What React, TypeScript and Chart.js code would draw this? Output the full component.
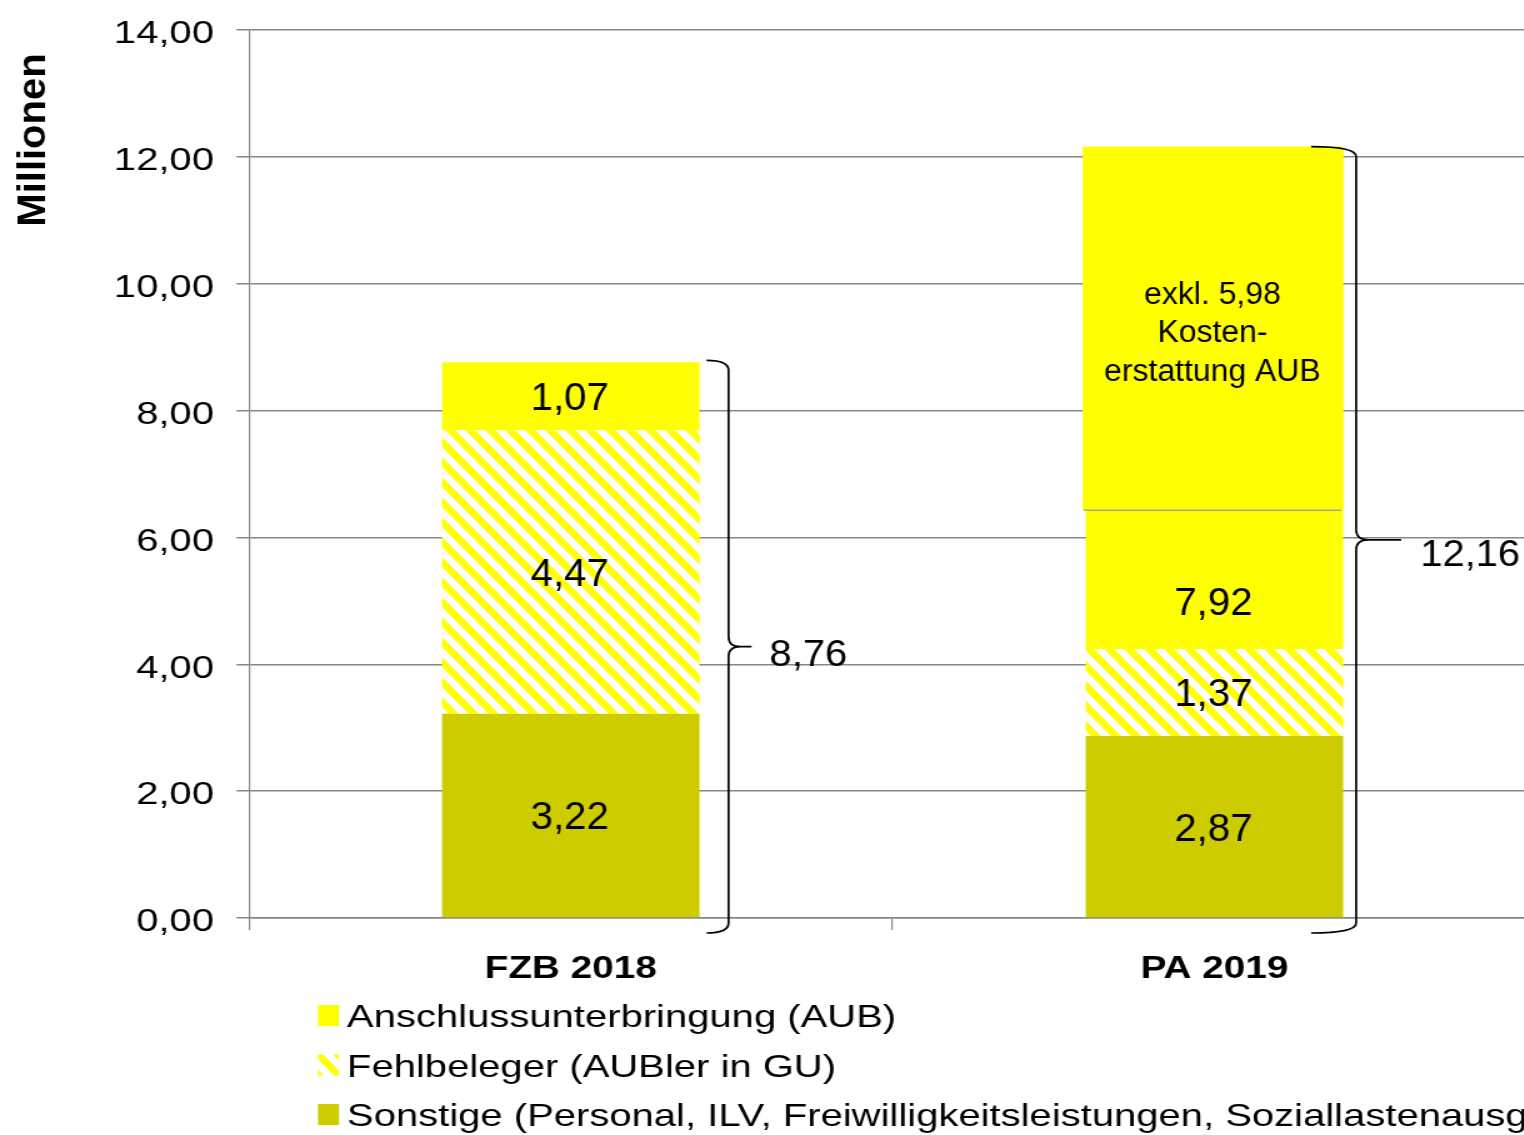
import React, { useEffect, useRef } from 'react';
import { Chart, registerables } from 'chart.js';

Chart.register(...registerables);

// ---------- data ----------
const categories = ['FZB 2018', 'PA 2019'];
const sonstigeValues = [3.22, 2.87];
const fehlbelegerValues = [4.47, 1.37];
const aubValues = [1.07, 7.92];
const totalValues = [8.76, 12.16];
const seriesNames = [
  'Sonstige (Personal, ILV, Freiwilligkeitsleistungen, Soziallastenausgleich)',
  'Fehlbeleger (AUBler in GU)',
  'Anschlussunterbringung (AUB)',
];
const yMin = 0;
const yMax = 14;
const yStep = 2;
const yTitle = 'Millionen';
const noteLines = ['exkl. 5,98', 'Kosten-', 'erstattung AUB'];
const noteBoxBottomValue = 6.43; // PA 2019: lower edge of the note box
const paAubLabelValue = 5.0; // PA 2019: where the "7,92" label sits

// ---------- layout / style ----------
const SX = 1.25; // horizontal stretch of the canvas on screen
const CW = 1240;
const CH = 1135;
const FONT = "'Liberation Sans', Arial, Helvetica, sans-serif";
const YELLOW = '#FFFF00';
const OLIVE = '#CCCC00';
const GRID = '#878787';

const fmt = (v: number) => v.toFixed(2).replace('.', ',');

function makeHatch(): CanvasPattern | string {
  const w = 16;
  const h = 20;
  const c = document.createElement('canvas');
  c.width = w;
  c.height = h;
  const g = c.getContext('2d');
  if (!g) return YELLOW;
  g.fillStyle = '#ffffff';
  g.fillRect(0, 0, w, h);
  g.strokeStyle = YELLOW;
  g.lineWidth = 6.25;
  for (let k = -1; k <= 1; k++) {
    g.beginPath();
    g.moveTo(k * w - w, -h);
    g.lineTo(k * w + 2 * w, 2 * h);
    g.stroke();
  }
  return g.createPattern(c, 'repeat') || YELLOW;
}

function drawText(
  ctx: CanvasRenderingContext2D,
  text: string,
  x: number,
  y: number,
  font: string,
  sx: number,
  align: CanvasTextAlign = 'center'
) {
  ctx.save();
  ctx.translate(x, y);
  ctx.scale(sx / SX, 1);
  ctx.font = font;
  ctx.textAlign = align;
  ctx.textBaseline = 'alphabetic';
  ctx.fillStyle = '#000';
  ctx.fillText(text, 0, 0);
  ctx.restore();
}

// brace geometry in screen px relative to the bar's right edge
const braceLayout = [
  { line: 29, end: 7, tip: 52, label: 70, labelDy: 6, topDy: -2 },
  { line: 13, end: -32, tip: 58, label: 77, labelDy: 13, topDy: 0 },
];

const overlayPlugin = {
  id: 'overlay',
  afterDatasetsDraw(chart: any) {
    const ctx: CanvasRenderingContext2D = chart.ctx;
    const y = chart.scales.y;
    const metaAub = chart.getDatasetMeta(2);

    // note box on PA 2019
    const bar = metaAub.data[1];
    const half = bar.width / 2;
    const left = bar.x - half;
    const right = bar.x + half;
    const top = y.getPixelForValue(totalValues[1]);
    const bottom = y.getPixelForValue(noteBoxBottomValue);
    ctx.save();
    ctx.fillStyle = YELLOW;
    ctx.fillRect(left - 3 / SX, top, right - left + 3 / SX, bottom - top);
    ctx.strokeStyle = '#a6a6a6';
    ctx.lineWidth = 1.5;
    ctx.beginPath();
    ctx.moveTo(left - 2 / SX, bottom);
    ctx.lineTo(right - 2 / SX, bottom);
    ctx.stroke();
    ctx.restore();
    const cy = (top + bottom) / 2 + 2.5;
    noteLines.forEach((t, i) => {
      drawText(ctx, t, bar.x - 2 / SX, cy + (i - 1) * 38.5 + 0.358 * 31, `31px ${FONT}`, 1.03);
    });

    // data labels
    const dataLabelFont = `39px ${FONT}`;
    chart.data.datasets.forEach((ds: any, di: number) => {
      const meta = chart.getDatasetMeta(di);
      meta.data.forEach((el: any, j: number) => {
        let c = (el.y + el.base) / 2;
        if (di === 2 && j === 1) c = y.getPixelForValue(paAubLabelValue);
        drawText(ctx, fmt(ds.data[j]), el.x - 1 / SX, c + 0.358 * 39, dataLabelFont, 1.03);
      });
    });

    // braces with totals
    const yZero = y.getPixelForValue(0);
    metaAub.data.forEach((el: any, j: number) => {
      const b = braceLayout[j];
      const r = el.x + el.width / 2;
      const xl = r + b.line / SX;
      const xe = r + b.end / SX;
      const xt = r + b.tip / SX;
      const yTop = y.getPixelForValue(totalValues[j]) + b.topDy;
      const yBot = yZero + 15;
      const ym = (yTop + yBot) / 2;
      const rad = 10;
      const hx = 12 / SX;
      ctx.save();
      ctx.strokeStyle = '#000';
      ctx.lineWidth = 1.7;
      ctx.lineJoin = 'round';
      ctx.beginPath();
      ctx.moveTo(xe, yTop);
      ctx.quadraticCurveTo(xl, yTop, xl, yTop + rad);
      ctx.lineTo(xl, ym - rad);
      ctx.quadraticCurveTo(xl, ym, xl + hx, ym);
      ctx.lineTo(xt, ym);
      ctx.moveTo(xl + hx, ym);
      ctx.quadraticCurveTo(xl, ym, xl, ym + rad);
      ctx.lineTo(xl, yBot - rad);
      ctx.quadraticCurveTo(xl, yBot, xe, yBot);
      ctx.stroke();
      ctx.restore();
      drawText(ctx, fmt(totalValues[j]), r + b.label / SX, ym + b.labelDy + 0.358 * 37, `37px ${FONT}`, 1.08, 'left');
    });
  },
  afterDraw(chart: any) {
    const ctx: CanvasRenderingContext2D = chart.ctx;
    // y axis title (rotated, unstretched on screen)
    ctx.save();
    ctx.translate(45 / SX, 140);
    ctx.scale(1 / SX, 1);
    ctx.rotate(-Math.PI / 2);
    ctx.font = `bold 40px ${FONT}`;
    ctx.textAlign = 'center';
    ctx.textBaseline = 'alphabetic';
    ctx.fillStyle = '#000';
    ctx.fillText(yTitle, 0, 0);
    ctx.restore();

    // legend
    const order = [2, 1, 0];
    order.forEach((di, row) => {
      const ds = chart.data.datasets[di];
      const baseY = 1027 + row * 49.5;
      const ix = 318 / SX;
      const iw = 21 / SX;
      const ih = 21;
      const itop = baseY - 22;
      ctx.save();
      if (di === 1) {
        ctx.fillStyle = '#ffffff';
        ctx.fillRect(ix, itop, iw, ih);
        ctx.beginPath();
        ctx.rect(ix, itop, iw, ih);
        ctx.clip();
        ctx.strokeStyle = YELLOW;
        ctx.lineWidth = 6.25;
        for (let k = -1; k <= 1; k++) {
          ctx.beginPath();
          ctx.moveTo(ix + k * 16 - 16, itop - 20);
          ctx.lineTo(ix + k * 16 + 32, itop + 40);
          ctx.stroke();
        }
      } else {
        ctx.fillStyle = ds.backgroundColor;
        ctx.fillRect(ix, itop, iw, ih);
      }
      ctx.restore();
      ctx.save();
      ctx.font = `32px ${FONT}`;
      ctx.fillStyle = '#000';
      ctx.textAlign = 'left';
      ctx.textBaseline = 'alphabetic';
      ctx.fillText(seriesNames[di], 347 / SX, baseY);
      ctx.restore();
    });
  },
};

export default function App() {
  const ref = useRef<HTMLCanvasElement>(null);

  useEffect(() => {
    const canvas = ref.current;
    if (!canvas) return;
    const hatch = makeHatch();
    Chart.defaults.font.family = FONT;
    Chart.defaults.color = '#000';
    const chart = new Chart(canvas, {
      type: 'bar',
      data: {
        labels: categories,
        datasets: [
          { label: seriesNames[0], data: sonstigeValues, backgroundColor: OLIVE, borderWidth: 0 },
          { label: seriesNames[1], data: fehlbelegerValues, backgroundColor: hatch as any, borderWidth: 0 },
          { label: seriesNames[2], data: aubValues, backgroundColor: YELLOW, borderWidth: 0 },
        ],
      },
      options: {
        responsive: false,
        maintainAspectRatio: false,
        devicePixelRatio: 1,
        animation: false,
        events: [],
        datasets: { bar: { categoryPercentage: 1, barPercentage: 0.4 } },
        layout: { padding: { left: 73.1, right: CW - 1229, top: 30, bottom: 126.8 } },
        plugins: { legend: { display: false }, tooltip: { enabled: false }, title: { display: false } },
        scales: {
          x: {
            stacked: true,
            grid: { drawOnChartArea: false, drawTicks: true, tickLength: 12, color: GRID, lineWidth: 1.2 },
            border: { display: true, color: GRID, width: 1.5 },
            ticks: { font: { size: 31, weight: 'bold' }, color: '#000', padding: 20.5 },
          },
          y: {
            stacked: true,
            min: yMin,
            max: yMax,
            grid: { color: GRID, lineWidth: 1.5, drawTicks: true, tickLength: 10 },
            border: { display: true, color: GRID, width: 1.2 },
            ticks: {
              stepSize: yStep,
              font: { size: 32, lineHeight: 0.7 },
              color: '#000',
              padding: 18,
              labelOffset: 4.5,
              callback: (v: any) => fmt(Number(v)),
            },
          },
        },
      },
      plugins: [overlayPlugin],
    });
    return () => chart.destroy();
  }, []);

  return (
    <div
      style={{
        position: 'fixed',
        left: 0,
        top: 0,
        width: 1524,
        height: 1135,
        overflow: 'hidden',
        background: '#fff',
      }}
    >
      <canvas
        ref={ref}
        width={CW}
        height={CH}
        style={{ width: `${CW * SX}px`, height: `${CH}px`, display: 'block' }}
      />
    </div>
  );
}
